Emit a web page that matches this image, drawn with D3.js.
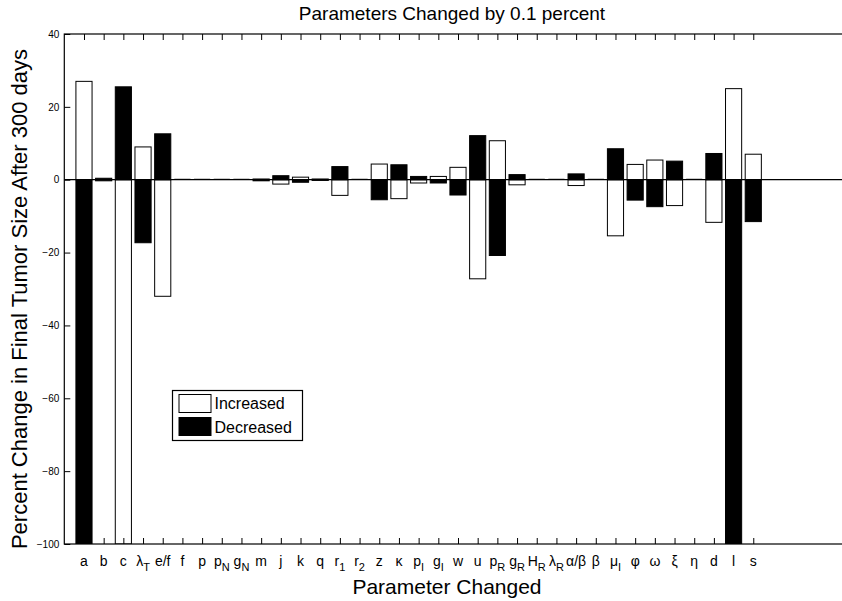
<!DOCTYPE html>
<html>
<head>
<meta charset="utf-8">
<script src="https://cdn.jsdelivr.net/npm/d3@7"></script>
<style>
  body { margin: 0; background: #fff; }
  svg { display: block; }
  text { font-family: "Liberation Sans", Arial, Helvetica, sans-serif; fill: #000; }
</style>
</head>
<body>
<div class="chart"></div>
<script>
// tick labels: base text and subscript
var catBase = ["a","b","c","\u03bb","e/f","f","p","p","g","m","j","k","q","r","r","z","\u03ba","p","g","w","u","p","g","H","\u03bb","\u03b1/\u03b2","\u03b2","\u03bc","\u03c6","\u03c9","\u03be","\u03b7","d","l","s"];
var catSub  = ["","","","T","","","","N","N","","","","","1","2","","","I","I","","","R","R","R","R","","","I","","","","","","",""];

// percent change when parameter increased / decreased
var incVals = [27, -0.3, -100, 9, -32, 0, 0, 0, 0, 0.2, -1.2, 0.7, -0.2, -4.3, 0, 4.3, -5.2, -0.9, 0.9, 3.4, -27.2, 10.7, -1.4, 0, 0, -1.6, 0, -15.4, 4.2, 5.4, -7.1, 0, -11.7, 25, 7.0];
var decVals = [-100, 0.4, 25.5, -17.3, 12.6, 0, 0, 0, 0, -0.3, 1.1, -0.7, 0.2, 3.6, 0, -5.5, 4.1, 0.9, -0.9, -4.2, 12.1, -20.8, 1.4, 0, 0, 1.6, 0, 8.5, -5.6, -7.4, 5.1, 0, 7.2, -100, -11.5];

var yTicks = [-100, -80, -60, -40, -20, 0, 20, 40];

var W = 842, H = 601;
// axes run past the right edge of the picture (xlim 0..40)
var pL = 64.3, pR = 851.7, pT = 34, pB = 544;

var svg = d3.select(".chart").append("svg")
  .attr("width", W).attr("height", H);

var x = d3.scaleLinear().domain([0, 40]).range([pL, pR]);
var y = d3.scaleLinear().domain([-100, 40]).range([pB, pT]);
var bw = 0.82;

svg.append("defs").append("clipPath").attr("id", "plot")
  .append("rect").attr("x", pL).attr("y", pT)
  .attr("width", pR - pL).attr("height", pB - pT);

var idx = d3.range(catBase.length);

// bars: white = increased, black = decreased
function drawBars(vals, fill) {
  svg.append("g").attr("clip-path", "url(#plot)")
    .selectAll("rect").data(idx).enter().append("rect")
    .attr("x", function(i) { return x(i + 1 - bw / 2); })
    .attr("width", x(bw) - x(0))
    .attr("y", function(i) { return y(Math.max(0, vals[i])); })
    .attr("height", function(i) { return Math.abs(y(vals[i]) - y(0)); })
    .attr("fill", fill)
    .attr("stroke", "#000")
    .attr("stroke-width", 1);
}
drawBars(incVals, "#fff");
drawBars(decVals, "#000");

// zero-height bars show as faint grey dashes on the baseline
svg.append("g").selectAll("line")
  .data(idx.filter(function(i) { return incVals[i] === 0 && decVals[i] === 0; }))
  .enter().append("line")
  .attr("x1", function(i) { return x(i + 1 - bw / 2); })
  .attr("x2", function(i) { return x(i + 1 + bw / 2); })
  .attr("y1", y(0) - 1).attr("y2", y(0) - 1)
  .attr("stroke", "#bbb").attr("stroke-width", 1);

// zero baseline
svg.append("line")
  .attr("x1", pL).attr("x2", pR)
  .attr("y1", y(0)).attr("y2", y(0))
  .attr("stroke", "#000").attr("stroke-width", 1.2);

// axes box
svg.append("rect")
  .attr("x", pL).attr("y", pT)
  .attr("width", pR - pL).attr("height", pB - pT)
  .attr("fill", "none").attr("stroke", "#000").attr("stroke-width", 1.2);

// inward ticks, matlab style
var tl = 6;
var xPos = idx.map(function(i) { return i + 1; });
var gXB = svg.append("g").attr("transform", "translate(0," + pB + ")")
  .call(d3.axisBottom(x).tickValues(xPos).tickSizeInner(-tl).tickSizeOuter(0).tickFormat(""));
var gXT = svg.append("g").attr("transform", "translate(0," + pT + ")")
  .call(d3.axisTop(x).tickValues(xPos).tickSizeInner(-tl).tickSizeOuter(0).tickFormat(""));
var gYL = svg.append("g").attr("transform", "translate(" + pL + ",0)")
  .call(d3.axisLeft(y).tickValues(yTicks).tickSizeInner(-tl).tickSizeOuter(0).tickPadding(5)
    .tickFormat(function(d) { return d < 0 ? "\u2212" + Math.abs(d) : d; }));

[gXB, gXT, gYL].forEach(function(g) {
  g.select(".domain").remove();
  g.selectAll(".tick line").attr("stroke", "#000");
});
gYL.selectAll(".tick text").style("font-size", "10px").attr("fill", "#000");

// x tick labels with subscripts
var xl = svg.append("g").selectAll("text").data(idx).enter().append("text")
  .attr("x", function(i) { return x(i + 1); })
  .attr("y", 566)
  .attr("text-anchor", "middle")
  .style("font-size", "14px");
xl.append("tspan").text(function(i) { return catBase[i]; });
xl.append("tspan")
  .attr("dy", 5)
  .style("font-size", "11px")
  .text(function(i) { return catSub[i]; });

// titles
svg.append("text")
  .attr("x", 452).attr("y", 20)
  .attr("text-anchor", "middle").style("font-size", "19px")
  .text("Parameters Changed by 0.1 percent");
svg.append("text")
  .attr("x", 447).attr("y", 594)
  .attr("text-anchor", "middle").style("font-size", "21px")
  .text("Parameter Changed");
svg.append("text")
  .attr("transform", "translate(27," + 299 + ") rotate(-90)")
  .attr("text-anchor", "middle").style("font-size", "22px")
  .text("Percent Change in Final Tumor Size After 300 days");

// legend
var lg = svg.append("g").attr("transform", "translate(172.5,390.5)");
lg.append("rect").attr("width", 130).attr("height", 50)
  .attr("fill", "#fff").attr("stroke", "#000").attr("stroke-width", 1.2);
lg.append("rect").attr("x", 6.5).attr("y", 4).attr("width", 32).attr("height", 18)
  .attr("fill", "#fff").attr("stroke", "#000");
lg.append("rect").attr("x", 6.5).attr("y", 27).attr("width", 32).attr("height", 18)
  .attr("fill", "#000").attr("stroke", "#000");
lg.append("text").attr("x", 42).attr("y", 18).style("font-size", "16px").text("Increased");
lg.append("text").attr("x", 42).attr("y", 42).style("font-size", "16px").text("Decreased");
</script>
</body>
</html>
